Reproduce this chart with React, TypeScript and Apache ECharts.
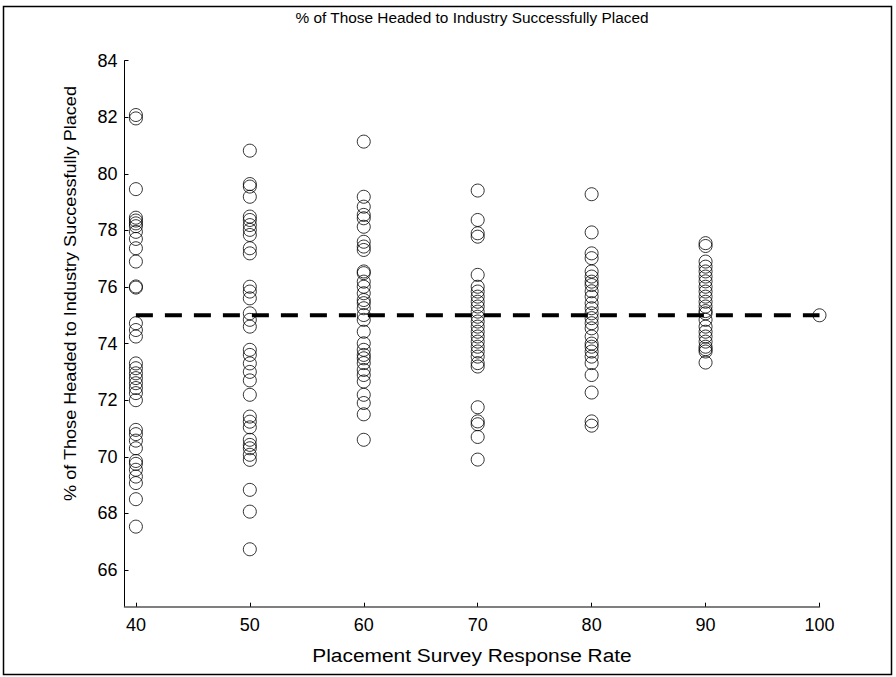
import React, { useEffect, useRef } from "react";
import * as echarts from "echarts";

const title = "% of Those Headed to Industry Successfully Placed";
const xName = "Placement Survey Response Rate";
const yName = "% of Those Headed to Industry Successfully Placed";

const xTicks = [40, 50, 60, 70, 80, 90, 100];
const yTicks = [66, 68, 70, 72, 74, 76, 78, 80, 82, 84];

const rate40 = [82.08, 81.96, 79.46, 78.45, 78.35, 78.25, 78.15, 77.95, 77.7, 77.37, 76.9, 76.02, 75.98, 74.72, 74.48, 74.25, 73.3, 73.13, 72.95, 72.78, 72.6, 72.43, 72.25, 72.0, 70.95, 70.8, 70.57, 70.3, 69.85, 69.75, 69.54, 69.3, 69.07, 68.5, 67.53];
const rate50 = [80.82, 79.64, 79.55, 79.19, 78.49, 78.37, 78.19, 78.02, 77.84, 77.37, 77.19, 76.01, 75.84, 75.6, 75.07, 74.84, 74.6, 73.78, 73.6, 73.3, 73.0, 72.7, 72.19, 71.42, 71.24, 71.04, 70.6, 70.42, 70.3, 70.07, 69.89, 68.83, 68.06, 66.73];
const rate60 = [81.14, 79.19, 78.84, 78.55, 78.43, 78.13, 77.6, 77.43, 77.31, 76.55, 76.49, 76.19, 76.01, 75.78, 75.54, 75.43, 75.25, 75.01, 74.84, 74.42, 74.01, 73.78, 73.6, 73.48, 73.31, 73.07, 72.89, 72.66, 72.19, 71.9, 71.5, 70.6];
const rate70 = [79.41, 78.37, 77.9, 77.78, 76.43, 76.01, 75.84, 75.66, 75.48, 75.31, 75.13, 74.95, 74.78, 74.6, 74.42, 74.25, 74.07, 73.89, 73.72, 73.54, 73.31, 73.19, 71.75, 71.25, 71.15, 70.7, 69.9];
const rate80 = [79.28, 77.93, 77.19, 77.02, 76.55, 76.37, 76.19, 76.07, 75.85, 75.66, 75.43, 75.25, 75.07, 74.9, 74.72, 74.54, 74.25, 74.0, 73.89, 73.72, 73.54, 73.31, 72.89, 72.27, 71.25, 71.1];
const rate90 = [77.55, 77.45, 76.9, 76.72, 76.55, 76.37, 76.2, 76.01, 75.84, 75.66, 75.48, 75.31, 75.15, 75.07, 74.84, 74.6, 74.42, 74.25, 74.07, 73.89, 73.8, 73.72, 73.33];
const rate100 = [75.0];

const groups: [number, number[]][] = [
  [40, rate40],
  [50, rate50],
  [60, rate60],
  [70, rate70],
  [80, rate80],
  [90, rate90],
  [100, rate100],
];

const meanLevel = 75;
const meanRange = [40, 100];

export default function App() {
  const ref = useRef<HTMLDivElement>(null);
  useEffect(() => {
    if (!ref.current) return;
    const chart = echarts.init(ref.current, null, { renderer: "svg" });
    const points: number[][] = [];
    groups.forEach(([x, ys]) => ys.forEach((y) => points.push([x, y])));
    const font = "'Liberation Sans', Arial, sans-serif";
    chart.setOption({
      animation: false,
      backgroundColor: "#fff",
      grid: { left: 124.5, right: 76.5, top: 60.7, bottom: 70.3, containLabel: false },
      xAxis: {
        type: "value",
        min: 39,
        max: 100,
        axisLine: { show: true, lineStyle: { color: "#555", width: 1.5 } },
        axisTick: { show: true, inside: true, length: 4, customValues: xTicks, lineStyle: { color: "#000" } },
        axisLabel: { customValues: xTicks, fontFamily: font, fontSize: 18, color: "#000", margin: 9 },
        splitLine: { show: false },
      },
      yAxis: {
        type: "value",
        min: 64.7,
        max: 84,
        axisLine: { show: true, lineStyle: { color: "#000", width: 1 } },
        axisTick: { show: true, inside: true, length: 4, customValues: yTicks, lineStyle: { color: "#000" } },
        axisLabel: { customValues: yTicks, fontFamily: font, fontSize: 18, color: "#000", margin: 7 },
        splitLine: { show: false },
      },
      graphic: [
        {
          type: "rect",
          shape: { x: 3.5, y: 6.5, width: 888, height: 668 },
          style: { fill: "none", stroke: "#000", lineWidth: 1.5 },
          silent: true,
        },
        {
          type: "text",
          x: 472,
          y: 17,
          style: { text: title, fontFamily: font, fontSize: 15.4, fill: "#000", align: "center", verticalAlign: "middle" },
          silent: true,
        },
        {
          type: "text",
          x: 472,
          y: 655,
          style: { text: xName, fontFamily: font, fontSize: 19, fill: "#000", align: "center", verticalAlign: "middle" },
          scaleX: 1.1,
          silent: true,
        },
        {
          type: "text",
          x: 70,
          y: 293.5,
          rotation: Math.PI / 2,
          style: { text: yName, fontFamily: font, fontSize: 17, fill: "#000", align: "center", verticalAlign: "middle" },
          scaleX: 1.065,
          silent: true,
        },
      ],
      series: [
        {
          type: "scatter",
          data: points,
          symbol: "circle",
          symbolSize: 13,
          itemStyle: { color: "rgba(255,255,255,0)", borderColor: "#000", borderWidth: 1 },
          z: 2,
        },
        {
          type: "line",
          data: [[meanRange[0], meanLevel], [meanRange[1], meanLevel]],
          symbol: "none",
          lineStyle: { color: "#000", width: 4, type: [17, 12] },
          z: 3,
        },
      ],
    });
    return () => chart.dispose();
  }, []);
  return <div ref={ref} style={{ width: 896, height: 677, position: "absolute", left: 0, top: 0 }} />;
}
